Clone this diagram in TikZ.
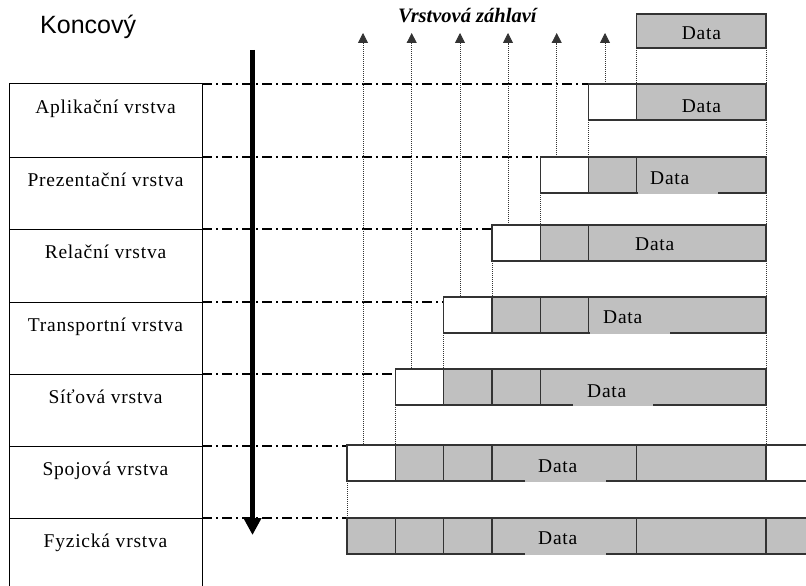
\documentclass[tikz,border=0pt]{standalone}
\usepackage{fontspec}
\setmainfont{Liberation Serif}
\newfontfamily\lblfont[LetterSpace=4]{Liberation Serif}
\newfontfamily\titlefont[UprightFont={* Bold Italic}]{Liberation Serif}
\newfontfamily\sansf{Liberation Sans}
\usetikzlibrary{arrows.meta}
\definecolor{cellgray}{HTML}{C0C0C0}
\definecolor{edge}{HTML}{333333}
\begin{document}
\begin{tikzpicture}[x=1pt,y=-1pt,
  tbl/.style={draw=black,line width=1pt},
  dashdot/.style={draw=black,line width=1.1pt,dash pattern=on 10pt off 4pt on 2pt off 4pt},
  dotline/.style={draw=black!80,line width=0.8pt,dash pattern=on 1pt off 1pt},
  uparrow/.style={dotline,-{Triangle[width=10pt,length=10pt]}},
  hdr/.style={draw=edge,line width=1.2pt,fill=white},
  pl/.style={draw=edge,line width=1.2pt,fill=cellgray},
  layer/.style={font=\lblfont\fontsize{19.5}{21}\selectfont,anchor=base,inner sep=0pt},
  datalbl/.style={font=\lblfont\fontsize{19.5}{21}\selectfont,anchor=base west,inner sep=0pt},
]
\useasboundingbox (0,0) rectangle (806,586);
\fill[white] (0,0) rectangle (806,586);
\begin{scope}
\clip (0,0) rectangle (806,586);

% ---- left layer table ----
\draw[tbl] (9,590) -- (9,84) -- (202,84) -- (202,590);
\foreach \yy in {157,229,302,374,446,518} \draw[tbl] (9,\yy) -- (202,\yy);

\node[layer] (l1) at (105.5,113.5) {Aplikační vrstva};
\node[layer] (l2) at (105.5,186.5) {Prezentační vrstva};
\node[layer] (l3) at (105.5,258.5) {Relační vrstva};
\node[layer] (l4) at (105.5,331.5) {Transportní vrstva};
\node[layer] (l5) at (105.5,403.5) {Síťová vrstva};
\node[layer] (l6) at (105.5,475.5) {Spojová vrstva};
\node[layer] (l7) at (105.5,547.5) {Fyzická vrstva};

% ---- titles ----
\node[font=\sansf\fontsize{25}{27}\selectfont,anchor=base west,inner sep=0pt] (konc) at (40,34) {Koncový};
\node[font=\titlefont\fontsize{20.5}{22}\selectfont,anchor=base west,inner sep=0pt] (zahl) at (398,22.5) {Vrstvová záhlaví};

% ---- coordinates ----
\coordinate (aS) at (202,84);   \coordinate (aE) at (588.7,84);
\coordinate (pS) at (202,157);  \coordinate (pE) at (540.3,157);
\coordinate (rS) at (202,229);  \coordinate (rE) at (492,229);
\coordinate (tS) at (202,302);  \coordinate (tE) at (443.7,302);
\coordinate (sS) at (202,374);  \coordinate (sE) at (395.3,374);
\coordinate (kS) at (202,446);  \coordinate (kE) at (347,446);
\coordinate (fS) at (202,518);  \coordinate (fE) at (347,518);

% ---- dash-dot layer boundaries ----
\draw[dashdot] (aS) -- (aE);
\draw[dashdot] (pS) -- (pE);
\draw[dashdot] (rS) -- (rE);
\draw[dashdot] (tS) -- (tE);
\draw[dashdot] (sS) -- (sE);
\draw[dashdot] (kS) -- (kE);
\draw[dashdot] (fS) -- (fE);

% ---- dotted header arrows ----
\coordinate (h1) at (605,84);    \coordinate (h1t) at (605,33);
\coordinate (h2) at (556.7,157); \coordinate (h2t) at (556.7,33);
\coordinate (h3) at (508,229);   \coordinate (h3t) at (508,33);
\coordinate (h4) at (460,302);   \coordinate (h4t) at (460,33);
\coordinate (h5) at (411.7,374); \coordinate (h5t) at (411.7,33);
\coordinate (h6) at (363,446);   \coordinate (h6t) at (363,33);
\foreach \i in {1,...,6} \draw[uparrow] (h\i) -- (h\i t);

% ---- dotted guides between rows ----
\draw[dotline] (636.7,48) -- (636.7,84);
\draw[dotline] (766,48) -- (766,84);
\draw[dotline] (588.7,120) -- (588.7,157);
\draw[dotline] (766,120) -- (766,157);
\draw[dotline] (540.3,193) -- (540.3,225);
\draw[dotline] (766,193) -- (766,225);
\draw[dotline] (492,261) -- (492,297);
\draw[dotline] (766,261) -- (766,297);
\draw[dotline] (443.7,333) -- (443.7,369);
\draw[dotline] (766,333) -- (766,369);
\draw[dotline] (395.3,405) -- (395.3,445);
\draw[dotline] (766,405) -- (766,445);
\draw[dotline] (347,481) -- (347,518);

% ---- packets ----
% top data
\filldraw[pl] (636.7,14) rectangle (766,48);
% application
\filldraw[hdr] (588.7,84) rectangle (636.7,120);
\filldraw[pl] (636.7,84) rectangle (766,120);
% presentation
\filldraw[hdr] (540.3,157) rectangle (588.7,193);
\filldraw[pl] (588.7,157) rectangle (636.7,193);
\filldraw[pl] (636.7,157) rectangle (766,193);
% session
\filldraw[hdr] (492,225) rectangle (540.3,261);
\filldraw[pl] (540.3,225) rectangle (588.7,261);
\filldraw[pl] (588.7,225) rectangle (766,261);
% transport
\filldraw[hdr] (443.7,297) rectangle (492,333);
\filldraw[pl] (492,297) rectangle (540.3,333);
\filldraw[pl] (540.3,297) rectangle (588.7,333);
\filldraw[pl] (588.7,297) rectangle (766,333);
% network
\filldraw[hdr] (395.3,369) rectangle (443.7,405);
\filldraw[pl] (443.7,369) rectangle (492,405);
\filldraw[pl] (492,369) rectangle (540.3,405);
\filldraw[pl] (540.3,369) rectangle (766,405);
% data link
\filldraw[hdr] (347,445) rectangle (395.3,481);
\filldraw[pl] (395.3,445) rectangle (443.7,481);
\filldraw[pl] (443.7,445) rectangle (492,481);
\filldraw[pl] (492,445) rectangle (636.7,481);
\filldraw[pl] (636.7,445) rectangle (766,481);
\draw[draw=edge,line width=1.2pt] (766,445) -- (812,445);
\draw[draw=edge,line width=1.2pt] (766,481) -- (812,481);
% physical
\filldraw[pl] (347,518) rectangle (395.3,554);
\filldraw[pl] (395.3,518) rectangle (443.7,554);
\filldraw[pl] (443.7,518) rectangle (492,554);
\filldraw[pl] (492,518) rectangle (636.7,554);
\filldraw[pl] (636.7,518) rectangle (766,554);
\filldraw[pl] (766,518) rectangle (812,554);

% gaps in bottom edges under the labels
\fill[cellgray] (637.6,192) rectangle (718,194.2);
\fill[cellgray] (589.6,332) rectangle (670,334.2);
\fill[cellgray] (573,404) rectangle (653,406.2);
\fill[cellgray] (525,480) rectangle (606,482.2);
\fill[cellgray] (525,553) rectangle (606,555.2);

% ---- data labels ----
\node[datalbl] (d0) at (681.7,40) {Data};
\node[datalbl] (d1) at (681.7,112) {Data};
\node[datalbl] (d2) at (650,184) {Data};
\node[datalbl] (d3) at (635,250) {Data};
\node[datalbl] (d4) at (603,323) {Data};
\node[datalbl] (d5) at (587,397) {Data};
\node[datalbl] (d6) at (538,472) {Data};
\node[datalbl] (d7) at (538,544) {Data};

% ---- big downward arrow ----
\coordinate (bigS) at (252.5,50);
\coordinate (bigE) at (252.5,535);
\draw[line width=5pt,-{Triangle[width=17pt,length=17pt]}] (bigS) -- (bigE);
\end{scope}
\end{tikzpicture}
\end{document}
